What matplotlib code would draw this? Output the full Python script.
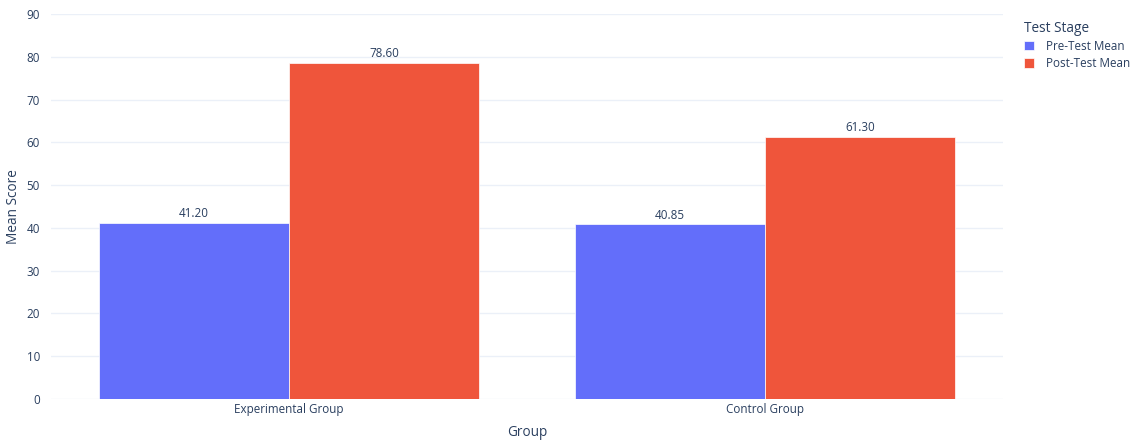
import matplotlib.pyplot as plt
import numpy as np

groups = ["Experimental Group", "Control Group"]
stages = ["Pre-Test Mean", "Post-Test Mean"]
pre_means = [41.20, 40.85]
post_means = [78.60, 61.30]
colors = ["#636EFA", "#EF553B"]
text_color = "#2a3f5f"
grid_color = "#EBF0F8"

plt.rcParams["font.family"] = ["Open Sans", "DejaVu Sans"]

fig = plt.figure(figsize=(11.43, 4.41), dpi=100)
ax = fig.add_axes([51 / 1143, 42 / 441, 952 / 1143, 385 / 441])

x = np.arange(len(groups))
width = 0.4
for i, (vals, label) in enumerate(zip([pre_means, post_means], stages)):
    bars = ax.bar(x + (i - 0.5) * width, vals, width, color=colors[i],
                  label=label, edgecolor="white", linewidth=0.5, zorder=3)
    for b, v in zip(bars, vals):
        ax.text(b.get_x() + b.get_width() / 2, v + 0.6, f"{v:.2f}",
                ha="center", va="bottom", fontsize=8.4, color=text_color)

ax.set_xlim(-0.5, 1.5)
ax.set_ylim(0, 90)
ax.set_yticks(range(0, 91, 10))
ax.set_xticks(x)
ax.set_xticklabels(groups)
ax.grid(axis="y", color=grid_color, linewidth=1, zorder=0)
for s in ax.spines.values():
    s.set_visible(False)
ax.tick_params(length=0, colors=text_color, labelsize=8.4, pad=8)
ax.tick_params(axis="x", pad=3)
ax.set_xlabel("Group", fontsize=9.8, color=text_color, labelpad=6)
ax.set_ylabel("Mean Score", fontsize=9.8, color=text_color, labelpad=4)

leg = ax.legend(title="Test Stage", loc="upper left", bbox_to_anchor=(1.017, 0.995),
                frameon=False, fontsize=8.4, title_fontsize=9.8,
                handlelength=0.9, handleheight=0.9, handletextpad=1.0,
                labelspacing=0.35, borderaxespad=0)
leg.get_title().set_color(text_color)
leg._legend_box.align = "left"
for t in leg.get_texts():
    t.set_color(text_color)

fig.savefig("out.png", dpi=100, facecolor="white")
